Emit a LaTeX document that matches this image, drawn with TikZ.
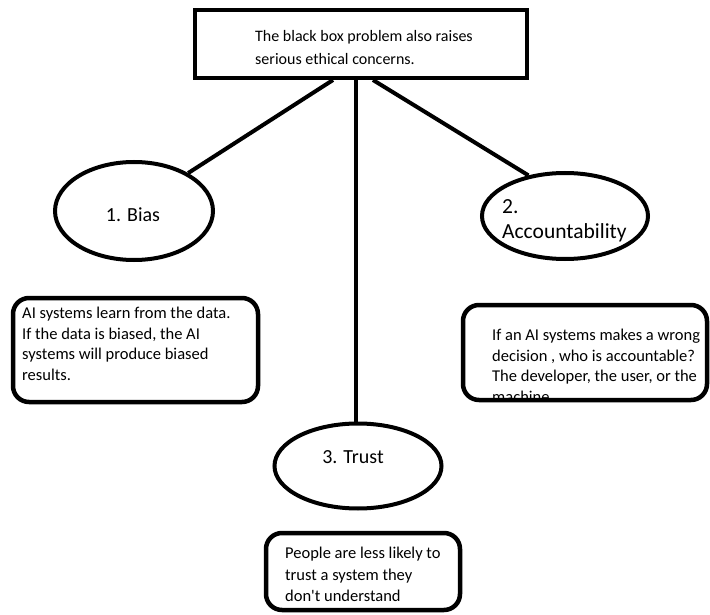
\documentclass[tikz,border=0pt]{standalone}
\usepackage{fontspec}
\setmainfont{Carlito}
\usetikzlibrary{shapes.geometric,calc}
\begin{document}
\begin{tikzpicture}[x=1pt,y=-1pt,
  thick line/.style={line width=4pt},
  topbox/.style={draw, thick line, rectangle, minimum width=332pt, minimum height=68pt, inner sep=0pt},
  oval/.style={draw, thick line, ellipse, inner sep=0pt},
  notebox/.style={draw, line width=4.5pt, rounded corners=16pt},
  txt/.style={inner sep=0pt, align=left},
  conn/.style={line width=4pt}
]
\useasboundingbox (0,0) rectangle (710,615);
\fill[white] (0,0) rectangle (710,615);

% top box
\node[topbox] (top) at (361,44) {};
\node[txt, anchor=west, font=\fontsize{16}{23}\selectfont] (toptext) at (255,48)
  {The black box problem also raises\\serious ethical concerns.};

% ellipses
\node[oval, minimum width=158pt, minimum height=98pt] (bias) at (134,211) {};
\node[txt, font=\fontsize{20}{25}\selectfont] (biastext) at (133,215) {1. Bias};

\node[oval, minimum width=166pt, minimum height=86pt] (acc) at (565,216) {};
\node[txt, anchor=west, font=\fontsize{21.5}{25}\selectfont] (acctext) at (502,221) {2.\\Accountability};

\node[oval, minimum width=167pt, minimum height=85pt] (trust) at (358,466) {};
\node[txt, font=\fontsize{20}{25}\selectfont] (trusttext) at (353,457) {3. Trust};

% connectors
\coordinate (tl) at ($(top.south west)+(140,0)$);
\coordinate (tm) at ($(top.south west)+(163,0)$);
\coordinate (tr) at ($(top.south west)+(180,0)$);
\draw[conn] (tl) -- (bias.35);
\draw[conn] (tm) -- (tm |- trust.north);
\draw[conn] (tr) -- (acc.132);

% note boxes
\node[txt, anchor=north west, font=\fontsize{16.5}{20.5}\selectfont] (biasnote) at (22,307)
  {AI systems learn from the data.\\If the data is biased, the AI\\systems will produce biased\\results.};
\draw[notebox] (13,298) rectangle (258,402);

\begin{scope}
\clip (463,305) rectangle (707,400);
\node[txt, anchor=north west, font=\fontsize{16.5}{20.5}\selectfont] (accnote) at (492,329)
  {If an AI systems makes a wrong\\decision , who is accountable?\\The developer, the user, or the\\machine};
\end{scope}
\draw[notebox] (463,305) rectangle (707,400);

\node[txt, anchor=north west, font=\fontsize{16.5}{21.5}\selectfont] (trustnote) at (285,547)
  {People are less likely to\\trust a system they\\don\textquotesingle t understand};
\draw[notebox] (266,533) rectangle (460,610);
\end{tikzpicture}
\end{document}
